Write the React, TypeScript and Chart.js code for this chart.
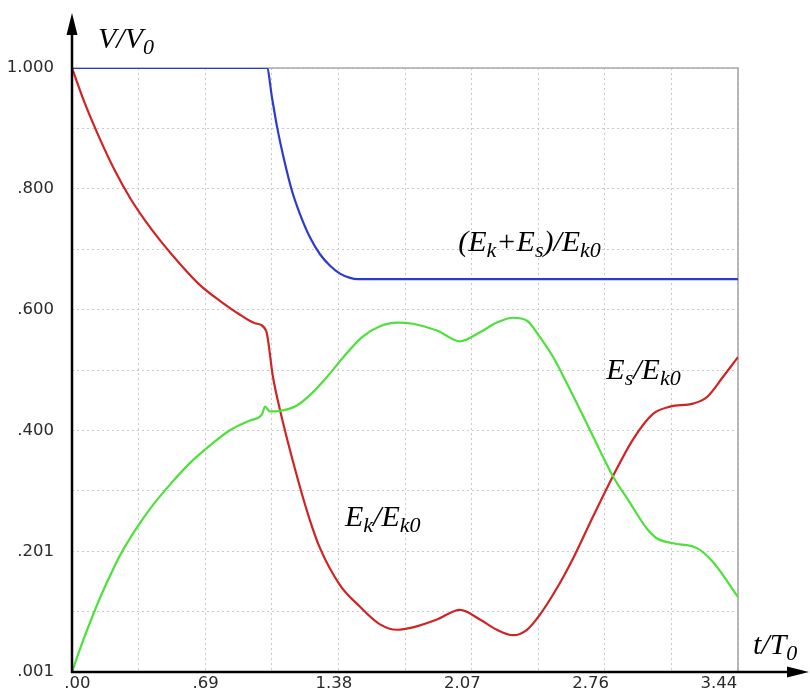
import React, { useEffect, useRef } from 'react';
import { Chart, registerables } from 'chart.js';

Chart.register(...registerables);

// ---- axis ranges & tick labels ----
const Y_MIN = 0.001;
const Y_MAX = 1.0;
const X_MIN = 0;
const X_MAX = 3.44;
const yTickLabels = ['.001', '.201', '.400', '.600', '.800', '1.000'];
const xTickValues = [0, 0.69, 1.38, 2.07, 2.76, 3.45];
const xTickLabels = ['.00', '.69', '1.38', '2.07', '2.76', '3.44'];
// range of the (label-only) bottom axis as placed by the original plot
const XL_MIN = -0.029;
const XL_MAX = 3.553;

// ---- series: (Ek+Es)/Ek0 ----
const blueT = [0, 1.007, 1.033, 1.059, 1.095, 1.136, 1.178, 1.229, 1.281, 1.333, 1.384, 1.436, 1.477, 3.44];
const blueV = [1.0, 1.0, 0.951, 0.903, 0.849, 0.797, 0.758, 0.72, 0.692, 0.673, 0.66, 0.653, 0.651, 0.651];

// ---- series: Ek/Ek0 ----
const redT = [0, 0.067, 0.145, 0.222, 0.3, 0.377, 0.455, 0.558, 0.661, 0.764, 0.868, 0.945, 1.002, 1.038, 1.074, 1.162, 1.229, 1.281, 1.384, 1.488, 1.591, 1.679, 1.761, 1.885, 2.004, 2.107, 2.195, 2.278, 2.35, 2.417, 2.505, 2.588, 2.676, 2.794, 2.898, 3.001, 3.089, 3.208, 3.28, 3.362, 3.44];
const redV = [1.0, 0.941, 0.882, 0.83, 0.785, 0.748, 0.715, 0.676, 0.641, 0.615, 0.592, 0.578, 0.566, 0.489, 0.435, 0.325, 0.252, 0.206, 0.145, 0.109, 0.08, 0.071, 0.075, 0.088, 0.104, 0.088, 0.071, 0.062, 0.071, 0.096, 0.14, 0.189, 0.248, 0.325, 0.386, 0.428, 0.44, 0.445, 0.456, 0.489, 0.522];

// ---- series: Es/Ek0 ----
const greenT = [0, 0.041, 0.093, 0.145, 0.196, 0.248, 0.325, 0.403, 0.506, 0.61, 0.713, 0.816, 0.919, 0.981, 0.997, 1.023, 1.074, 1.162, 1.245, 1.317, 1.41, 1.498, 1.591, 1.679, 1.761, 1.885, 2.004, 2.107, 2.195, 2.278, 2.35, 2.417, 2.485, 2.557, 2.624, 2.691, 2.794, 2.882, 2.97, 3.022, 3.104, 3.228, 3.311, 3.44];
const greenV = [0.001, 0.039, 0.083, 0.124, 0.16, 0.194, 0.235, 0.271, 0.311, 0.347, 0.376, 0.401, 0.417, 0.427, 0.44, 0.432, 0.433, 0.442, 0.464, 0.489, 0.525, 0.555, 0.573, 0.579, 0.577, 0.566, 0.548, 0.563, 0.579, 0.587, 0.582, 0.555, 0.522, 0.478, 0.435, 0.391, 0.325, 0.281, 0.238, 0.222, 0.214, 0.206, 0.183, 0.125];

type Part = [string, boolean];
const curveLabels: { parts: Part[]; t: number; v: number }[] = [
  { parts: [['(E', false], ['k', true], ['+E', false], ['s', true], [')/E', false], ['k0', true]], t: 1.995, v: 0.697 },
  { parts: [['E', false], ['s', true], ['/E', false], ['k0', true]], t: 2.76, v: 0.486 },
  { parts: [['E', false], ['k', true], ['/E', false], ['k0', true]], t: 1.41, v: 0.243 },
];

const toPts = (t: number[], v: number[]) => t.map((x, i) => ({ x, y: v[i] }));

const MAIN_FONT = 'italic 30px "Liberation Serif", "Times New Roman", serif';
const SUB_FONT = 'italic 22px "Liberation Serif", "Times New Roman", serif';

function drawRich(ctx: CanvasRenderingContext2D, x: number, y: number, parts: Part[]) {
  ctx.save();
  ctx.fillStyle = '#000';
  ctx.textBaseline = 'alphabetic';
  ctx.textAlign = 'left';
  let cx = x;
  for (const [txt, sub] of parts) {
    ctx.font = sub ? SUB_FONT : MAIN_FONT;
    ctx.fillText(txt, cx, sub ? y + 6 : y);
    cx += ctx.measureText(txt).width;
  }
  ctx.restore();
}

const decor = {
  id: 'decor',
  beforeDatasetsDraw(chart: any) {
    const { ctx, chartArea: a } = chart;
    ctx.save();
    ctx.strokeStyle = '#a9a9a9';
    ctx.lineWidth = 1.6;
    ctx.beginPath();
    ctx.moveTo(a.left, a.top);
    ctx.lineTo(a.right, a.top);
    ctx.lineTo(a.right, a.bottom);
    ctx.stroke();
    ctx.restore();
  },
  afterDraw(chart: any) {
    const { ctx, chartArea: a, scales } = chart;
    ctx.save();
    ctx.strokeStyle = '#000';
    ctx.fillStyle = '#000';
    ctx.lineWidth = 2.5;
    // y axis with arrow
    ctx.beginPath();
    ctx.moveTo(a.left, a.bottom + 1);
    ctx.lineTo(a.left, a.top - 34);
    ctx.stroke();
    ctx.beginPath();
    ctx.moveTo(a.left, a.top - 55);
    ctx.lineTo(a.left - 5.5, a.top - 33);
    ctx.lineTo(a.left + 5.5, a.top - 33);
    ctx.closePath();
    ctx.fill();
    // x axis with arrow
    ctx.beginPath();
    ctx.moveTo(a.left - 1, a.bottom);
    ctx.lineTo(a.right + 52, a.bottom);
    ctx.stroke();
    ctx.beginPath();
    ctx.moveTo(a.right + 71, a.bottom);
    ctx.lineTo(a.right + 49, a.bottom - 5.5);
    ctx.lineTo(a.right + 49, a.bottom + 5.5);
    ctx.closePath();
    ctx.fill();
    ctx.restore();

    // axis titles
    drawRich(ctx, a.left + 26, a.top - 20, [['V/V', false], ['0', true]]);
    drawRich(ctx, a.right + 15, a.bottom - 18, [['t/T', false], ['0', true]]);

    // curve labels
    for (const l of curveLabels) {
      drawRich(ctx, scales.x.getPixelForValue(l.t), scales.y.getPixelForValue(l.v), l.parts);
    }
  },
};

export default function App() {
  const ref = useRef<HTMLCanvasElement | null>(null);

  useEffect(() => {
    if (!ref.current) return;
    const gridCommon = {
      color: '#c9c9c9',
      lineWidth: 1,
      drawTicks: false,
    };
    const line = (label: string, data: any[], color: string) => ({
      label,
      data,
      borderColor: color,
      borderWidth: 2.2,
      pointRadius: 0,
      cubicInterpolationMode: 'monotone',
      xAxisID: 'x',
      yAxisID: 'y',
    });
    const chart = new Chart(ref.current, {
      type: 'line',
      data: {
        datasets: [
          line('(Ek+Es)/Ek0', toPts(blueT, blueV), '#2b3bd2'),
          line('Es/Ek0', toPts(greenT, greenV), '#4ee03c'),
          line('Ek/Ek0', toPts(redT, redV), '#cf2424'),
        ],
      },
      options: {
        responsive: false,
        animation: false,
        layout: { padding: { top: 68, right: 72, left: 0, bottom: 0 } },
        plugins: { legend: { display: false }, tooltip: { enabled: false } },
        scales: {
          x: {
            type: 'linear',
            position: 'bottom',
            min: X_MIN,
            max: X_MAX,
            grid: gridCommon,
            border: { display: false, dash: [2, 3] },
            ticks: { display: false },
            afterBuildTicks: (s: any) => {
              s.ticks = Array.from({ length: 11 }, (_, i) => ({ value: X_MIN + (i * (X_MAX - X_MIN)) / 10 }));
            },
            afterFit: (s: any) => {
              s.height = 0;
            },
          },
          xl: {
            type: 'linear',
            position: 'bottom',
            min: XL_MIN,
            max: XL_MAX,
            grid: { display: false, drawTicks: false },
            border: { display: false },
            ticks: {
              autoSkip: false,
              maxRotation: 0,
              padding: 2,
              color: '#2a2a2a',
              font: { family: '"DejaVu Sans", sans-serif', size: 16.5 },
              callback: (_v: any, i: number) => xTickLabels[i],
            },
            afterBuildTicks: (s: any) => {
              s.ticks = xTickValues.map((value) => ({ value }));
            },
            afterFit: (s: any) => {
              s.height = 22;
            },
          },
          y: {
            type: 'linear',
            min: Y_MIN,
            max: Y_MAX,
            grid: gridCommon,
            border: { display: false, dash: [2, 3] },
            ticks: {
              autoSkip: false,
              padding: 18,
              color: '#2a2a2a',
              font: { family: '"DejaVu Sans", sans-serif', size: 16.5 },
              callback: (_v: any, i: number) => (i % 2 === 0 ? yTickLabels[i / 2] : ''),
            },
            afterBuildTicks: (s: any) => {
              s.ticks = Array.from({ length: 11 }, (_, i) => ({ value: Y_MIN + (i * (Y_MAX - Y_MIN)) / 10 }));
            },
            afterFit: (s: any) => {
              s.width = 72;
            },
          },
        },
      } as any,
      plugins: [decor],
    });
    return () => chart.destroy();
  }, []);

  return (
    <div style={{ position: 'absolute', left: 0, top: 0, width: 810, height: 700, background: '#fff' }}>
      <canvas ref={ref} width={810} height={700} style={{ display: 'block' }} />
    </div>
  );
}
